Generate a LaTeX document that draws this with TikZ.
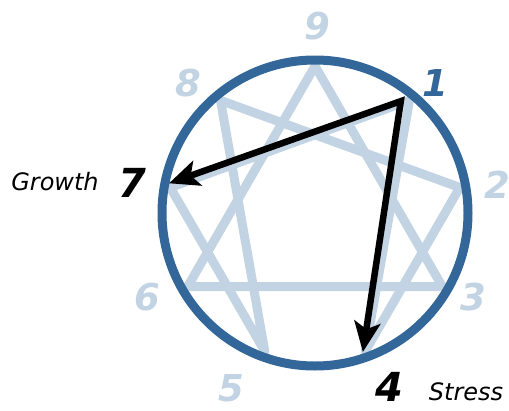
\documentclass[tikz,border=0pt]{standalone}
\usepackage{fontspec}
\setmainfont{DejaVu Sans}
\usetikzlibrary{arrows.meta,calc}
\definecolor{ringblue}{RGB}{52,103,153}
\definecolor{starblue}{RGB}{194,211,227}
\tikzset{
  starline/.style={draw=starblue, line width=9pt, line join=round},
  ring/.style={draw=ringblue, line width=9pt},
  arr/.style={draw=black, line width=6.5pt, line join=miter,
    {Stealth[length=30pt,width=26pt,inset=7pt]}-{Stealth[length=30pt,width=26pt,inset=7pt]}},
  num/.style={inner sep=0pt, font=\fontsize{37}{37}\selectfont\bfseries\itshape, text=starblue},
  bignum/.style={inner sep=0pt, font=\fontsize{40}{40}\selectfont\bfseries\itshape, text=black},
  word/.style={inner sep=0pt, font=\fontsize{24}{24}\selectfont\itshape, text=black}
}
\begin{document}
\begin{tikzpicture}[x=1pt,y=-1pt]
\useasboundingbox (0,0) rectangle (509,410);
\coordinate (c) at (315,213);
\foreach \k/\a in {9/90,1/50,2/10,3/-30,4/-70,5/-110,6/-150,7/170,8/130}{
  \coordinate (s\k) at ($(c)+({147*cos(\a)},{-147*sin(\a)})$);
}
\draw[starline] (s9) -- (s3) -- (s6) -- cycle;
\draw[starline] (s1) -- (s4) -- (s2) -- (s8) -- (s5) -- (s7) -- cycle;
\node[ring, circle, minimum size=306pt, inner sep=0pt] (ringc) at (c) {};
\coordinate (a1) at ($(c)+({141*cos(52.5)},{-141*sin(52.5)})$);
\coordinate (a7) at ($(c)+({149*cos(168.5)},{-149*sin(168.5)})$);
\coordinate (a4) at ($(c)+({147*cos(-71)},{-147*sin(-71)})$);
\draw[arr] (a7) -- (a1) -- (a4);
\node[num] (l9) at (317,26) {9};
\node[num] (l8) at (188,83) {8};
\node[num, text=ringblue] (l1) at (435,83) {1};
\node[num] (l2) at (497,185) {2};
\node[num] (l3) at (473,297) {3};
\node[num] (l6) at (147,297) {6};
\node[num] (l5) at (231,388) {5};
\node[bignum] (l7) at (132,183) {7};
\node[bignum] (l4) at (389,387) {4};
\node[word] (growth) at (55,182) {Growth};
\node[word] (stress) at (466,392) {Stress};
\end{tikzpicture}
\end{document}
